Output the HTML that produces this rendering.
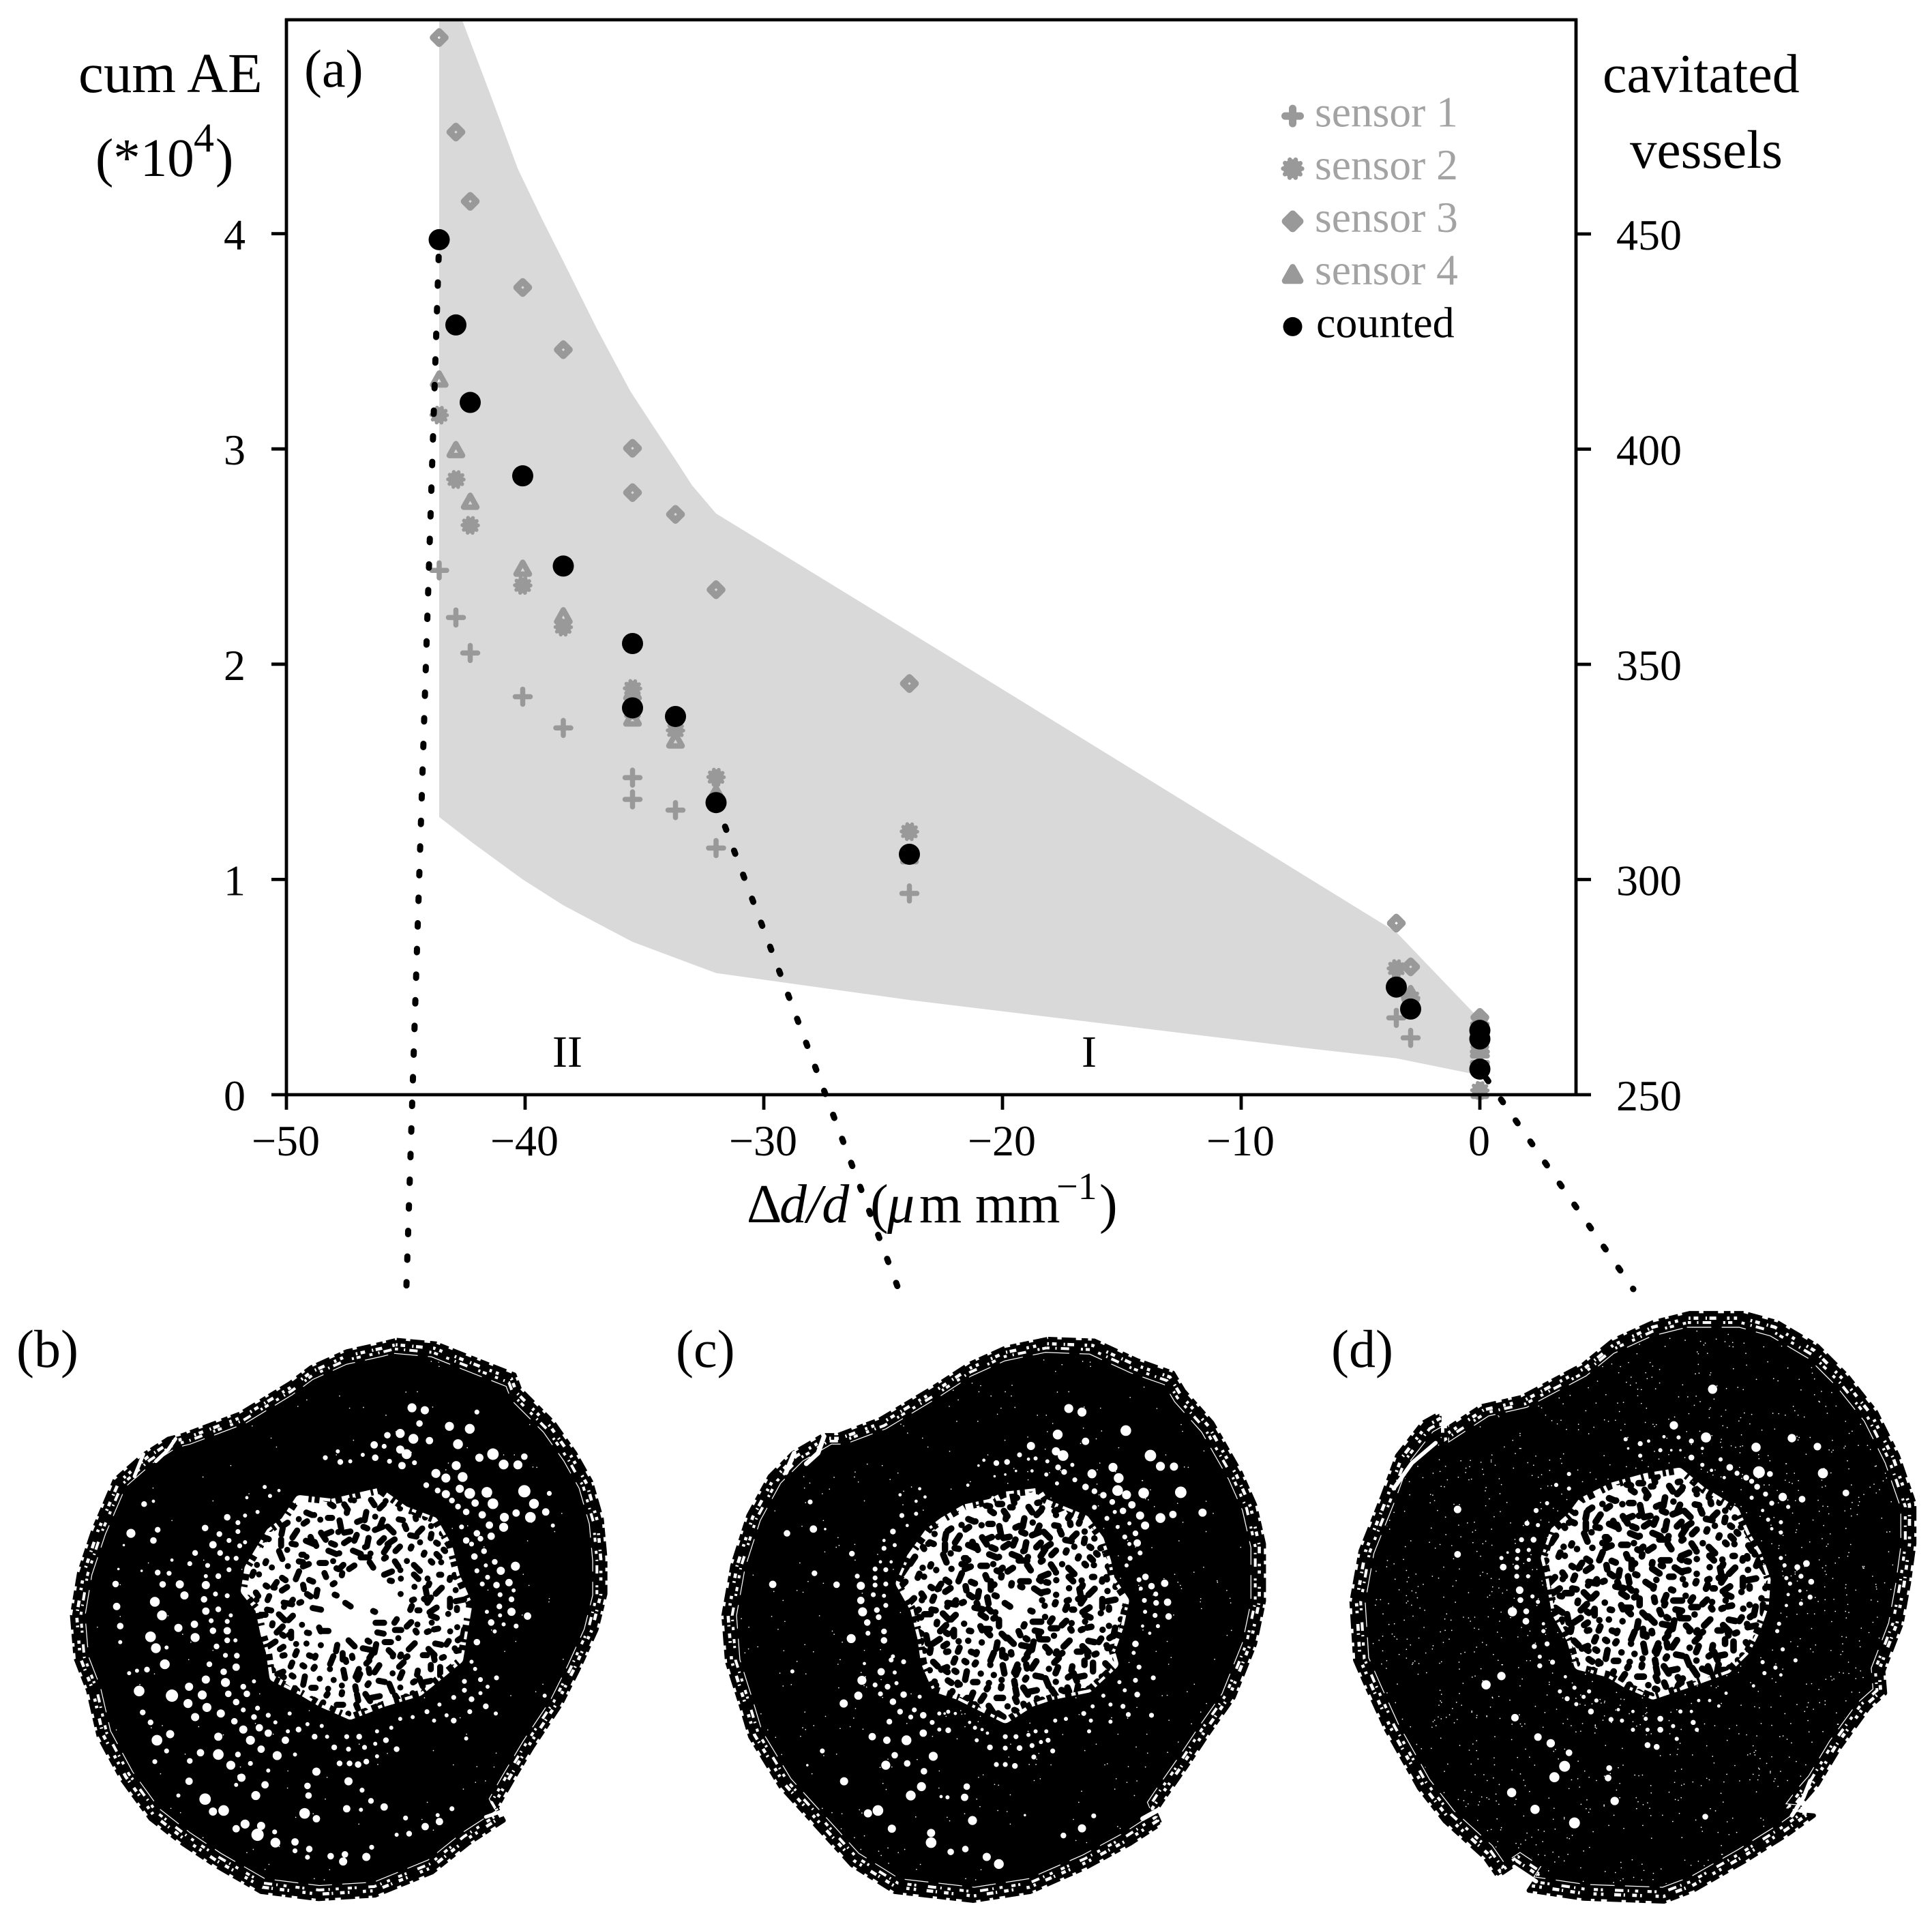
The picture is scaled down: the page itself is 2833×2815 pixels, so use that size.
<!DOCTYPE html>
<html lang="en">
<head>
<meta charset="utf-8">
<title>Cumulative AE and cavitated vessels versus diameter change</title>
<style>
html,body{margin:0;padding:0;background:#fff;}
svg{display:block;}
text{font-family:"Liberation Serif","DejaVu Serif",serif;fill:#000;}
</style>
</head>
<body>
<svg id="figure" xmlns="http://www.w3.org/2000/svg" width="2833" height="2815" viewBox="0 0 2833 2815">
  <rect x="0" y="0" width="2833" height="2815" fill="#fff"/>
  <defs>
    <clipPath id="plot-clip"><rect x="420" y="29" width="1891" height="1576"/></clipPath>
  </defs>
  <g id="chart"></g>

  <text x="115" y="135" font-size="83">cum AE</text>
  <text x="140" y="258" font-size="79">(*10<tspan x="284" y="222" font-size="60">4</tspan><tspan x="316" y="258" font-size="79">)</tspan></text>
  <text x="2350" y="135" font-size="80">cavitated</text>
  <text x="2390" y="246" font-size="79">vessels</text>
  <text x="446" y="127" font-size="78">(a)</text>
  <text x="810" y="1564" font-size="66">II</text>
  <text x="1586" y="1564" font-size="66">I</text>
  <text y="1792" font-size="80"><tspan x="1095">Δ</tspan><tspan x="1143" font-style="italic">d/d</tspan><tspan x="1276">(</tspan><tspan x="1301" font-style="italic">μ</tspan><tspan x="1348">m</tspan><tspan x="1430">mm</tspan><tspan x="1549" y="1758" font-size="56">−1</tspan><tspan x="1612" y="1792">)</tspan></text>
  <text x="24" y="2004" font-size="78">(b)</text>
  <text x="991" y="2004" font-size="78">(c)</text>
  <text x="1952" y="2004" font-size="78">(d)</text>
  <g id="micrographs"></g>
</svg>

<script>
// ---------- chart data ----------
const strainValues  = [-43.6,-42.9,-42.3,-40.1,-38.4,-35.5,-35.5,-33.7,-32.0,-23.9,-3.5,-2.9,0,0,0];
const sensor1Values = [2.436,2.217,2.052,1.849,1.704,1.473,1.372,1.322,1.146,0.935,0.357,0.264,0.20,0.18,0.15];
const sensor2Values = [3.157,2.858,2.645,2.366,2.172,1.887,1.78,1.692,1.475,1.222,0.586,0.45,0.33,0.27,0.02];
const sensor3Values = [4.911,4.472,4.15,3.75,3.461,3.003,2.797,2.696,2.346,1.91,0.797,0.594,0.359,0.30,0.20];
const sensor4Values = [3.325,2.997,2.757,2.446,2.225,1.87,1.75,1.648,1.40,1.11,0.53,0.47,0.30,0.25,0.02];
const countedValues = [3.972,3.576,3.216,2.875,2.456,2.096,1.797,1.757,1.357,1.117,0.5,0.398,0.299,0.259,0.119];

const bandUpperStrain = [-43.6,-42.63,-41.4,-40.3,-39.3,-38.3,-37,-35.6,-34.6,-33.7,-33,-32.0,-22,-3.5,0];
const bandUpperAE     = [5.6,4.99,4.63,4.30,4.07,3.85,3.56,3.27,3.10,2.95,2.83,2.70,2.02,0.755,0.35];
const bandLowerStrain = [-43.6,-42.2,-40.1,-38.4,-35.5,-32.0,-23.9,-7.7,-3.5,0];
const bandLowerAE     = [1.29,1.17,1.0,0.88,0.71,0.565,0.44,0.222,0.169,0.09];

const xTickValues = [-50,-40,-30,-20,-10,0];
const yTickValues = [0,1,2,3,4];
const rightTickValues = [250,300,350,400,450];
const legendLabels = ['sensor 1','sensor 2','sensor 3','sensor 4','counted'];

// ---------- axis functions ----------
function xScale(v){ return 2170 + 35 * v; }
function yScale(v){ return 1605 - 315.6 * v; }
function rightScale(v){ return 1605 - 6.31 * (v - 250); }

const SVGNS = 'http://www.w3.org/2000/svg';
const chart = document.getElementById('chart');
function make(parent, tag, attrs, txt){
  const el = document.createElementNS(SVGNS, tag);
  for (const k in attrs) el.setAttribute(k, attrs[k]);
  if (txt !== undefined) el.textContent = txt;
  parent.appendChild(el);
  return el;
}
const GREY = '#999999';

// ---------- confidence band ----------
(function(){
  const pts = [];
  bandUpperStrain.forEach(function(x,i){ pts.push(xScale(x)+','+yScale(bandUpperAE[i])); });
  for (let i = bandLowerStrain.length - 1; i >= 0; i--) pts.push(xScale(bandLowerStrain[i])+','+yScale(bandLowerAE[i]));
  const band = make(chart,'polygon',{points:pts.join(' '),fill:'#d9d9d9','clip-path':'url(#plot-clip)'});
  
  
})();

// ---------- marker painters ----------
function plusMark(parent,x,y,k){
  const h = 11*k;
  return make(parent,'path',{d:'M'+(x-h)+' '+y+'H'+(x+h)+'M'+x+' '+(y-h)+'V'+(y+h),fill:'none',stroke:GREY,'stroke-width':7.5*k,'stroke-linecap':'round'});
}
function flowerMark(parent,x,y,k){
  const r = 11.5*k;
  return make(parent,'circle',{cx:x,cy:y,r:r,fill:GREY,stroke:GREY,'stroke-width':5.5*k,'stroke-linecap':'round','stroke-dasharray':'0.1 '+(2*Math.PI*r/10-0.1)});
}
function diamondMark(parent,x,y,k,solid){
  const h = 9*k;
  return make(parent,'polygon',{points:x+','+(y-h)+' '+(x+h)+','+y+' '+x+','+(y+h)+' '+(x-h)+','+y,fill:solid?GREY:'none',stroke:GREY,'stroke-width':9.6*k,'stroke-linejoin':'round'});
}
function triangleMark(parent,x,y,k,solid){
  return make(parent,'polygon',{points:x+','+(y-8.7*k)+' '+(x+9.75*k)+','+(y+8.7*k)+' '+(x-9.75*k)+','+(y+8.7*k),fill:solid?GREY:'none',stroke:GREY,'stroke-width':8*k,'stroke-linejoin':'round'});
}

// ---------- series ----------
const s1Group = make(chart,'g',{});


sensor1Values.forEach(function(v,i){
  const m = plusMark(s1Group,xScale(strainValues[i]),yScale(v),1);
  
  
});
const s4Group = make(chart,'g',{});


sensor4Values.forEach(function(v,i){
  const m = triangleMark(s4Group,xScale(strainValues[i]),yScale(v),1,false);
  
  
});
const s2Group = make(chart,'g',{});


sensor2Values.forEach(function(v,i){
  const m = flowerMark(s2Group,xScale(strainValues[i]),yScale(v),1);
  
  
});
const s3Group = make(chart,'g',{});


sensor3Values.forEach(function(v,i){
  const m = diamondMark(s3Group,xScale(strainValues[i]),yScale(v),1,false);
  
  
});

// ---------- dotted leader lines ----------
function leader(idx, ex, ey, offset){
  const l = make(chart,'line',{x1:xScale(strainValues[idx]),y1:yScale(countedValues[idx]),x2:ex,y2:ey,stroke:'#000','stroke-width':9,'stroke-linecap':'round','stroke-dasharray':'5 32.6','stroke-dashoffset':offset});
  return l;
}
const leaderB = leader(0,596,1885,12.6);


const leaderC = leader(8,1316,1886,0);


const leaderD = leader(14,2395,1890,21);



const countedGroup = make(chart,'g',{});


countedValues.forEach(function(v,i){
  const m = make(countedGroup,'circle',{cx:xScale(strainValues[i]),cy:yScale(v),r:15.5,fill:'#000'});
  
  
});

// ---------- axes ----------
function axisLine(x1,y1,x2,y2){
  return make(chart,'line',{x1:x1,y1:y1,x2:x2,y2:y2,stroke:'#000','stroke-width':4.8});
}
const leftAxis = axisLine(420,27,420,1607);


const rightAxis = axisLine(2311,27,2311,1607);


const topAxis = axisLine(418,29,2313,29);


const bottomAxis = axisLine(420,1605,2311,1605);



xTickValues.forEach(function(v){
  const t = axisLine(xScale(v),1605,xScale(v),1627);
  
  
  const lab = make(chart,'text',{x:xScale(v)-1,y:1694,'font-size':64,'text-anchor':'middle'},v<0?'\u2212'+(-v):String(v));
  
  
});
yTickValues.forEach(function(v){
  const t = axisLine(398,yScale(v),420,yScale(v));
  
  
  const lab = make(chart,'text',{x:360,y:yScale(v)+23,'font-size':64,'text-anchor':'end'},String(v));
  
  
});
rightTickValues.forEach(function(v){
  const t = axisLine(2311,rightScale(v),2333,rightScale(v));
  
  
  const lab = make(chart,'text',{x:2370,y:rightScale(v)+23,'font-size':64},String(v));
  
  
});

// ---------- legend ----------
const legendGroup = make(chart,'g',{});


legendLabels.forEach(function(label,i){
  const base = 185.6 + i * 77.2;
  const cy = base - 15.5, cx = 1895.5;
  const entry = make(legendGroup,'g',{});
  
  
  let mark;
  if (i === 0) mark = make(entry,'path',{d:'M'+(cx-11)+' '+cy+'H'+(cx+11)+'M'+cx+' '+(cy-11)+'V'+(cy+11),stroke:GREY,'stroke-width':11,'stroke-linecap':'round',fill:'none'});
  if (i === 1) mark = flowerMark(entry,cx,cy,1.2);
  if (i === 2) mark = diamondMark(entry,cx,cy,1.15,true);
  if (i === 3) mark = triangleMark(entry,cx,cy,1.15,true);
  if (i === 4) mark = make(entry,'circle',{cx:cx,cy:cy,r:14,fill:'#000'});
  
  
  const txt = make(entry,'text',{x:i===4?1930:1928,y:base,'font-size':i===4?64:63.5},label);
  txt.style.fill = i === 4 ? '#000' : '#a3a3a3';
  
  
});

// ---------- stem cross-section micrographs (illustrative raster-like drawings, not chart data) ----------
const micro = document.getElementById('micrographs');
function hash(i){
  let h = Math.imul(i + 11, 2654435761) >>> 0;
  h ^= h >>> 13;
  h = Math.imul(h, 1274126177) >>> 0;
  return (h ^ (h >>> 16)) >>> 0;
}
function drawSection(cfg){
  const g = make(micro,'g',{transform:'translate('+cfg.ox+' '+cfg.oy+') scale('+cfg.k+')'});
  
  

  const cpi = make(g,'clipPath',{id:cfg.id+'-inner'});
  const scaleAbout = function(s){ return 'translate('+cfg.cx+' '+cfg.cy+') scale('+s+') translate('+(-cfg.cx)+' '+(-cfg.cy)+')'; };
  make(cpi,'polygon',{points:cfg.outline,transform:scaleAbout(0.945)});

  const body = make(g,'polygon',{points:cfg.outline,fill:'#000',stroke:'#000','stroke-width':12,'stroke-dasharray':'26 12 40 16 18 10','stroke-linejoin':'round'});
  
  

  const bark = make(g,'polygon',{points:cfg.outline,fill:'none',stroke:'#fff','stroke-width':9,'stroke-dasharray':'5 9 13 20 4 7 19 30 7 12 9 38','transform':scaleAbout(0.983)});
  
  
  const bark2 = make(g,'polygon',{points:cfg.outline,fill:'none',stroke:'#fff','stroke-width':8,'stroke-dasharray':'9 17 4 12 24 34 6 8 12 26','transform':scaleAbout(0.968)});
  
  
  const inner = make(g,'polygon',{points:cfg.outline,fill:'none',stroke:'#fff','stroke-width':2.5,'stroke-dasharray':'70 30','transform':scaleAbout(0.952)});
  
  

  let d = '';
  cfg.slits.forEach(function(s){ d += 'M' + s; });
  const slits = make(g,'path',{d:d,fill:'none',stroke:'#fff','stroke-width':cfg.slitW,'stroke-linecap':'round','stroke-linejoin':'round'});
  
  

  // fine grain across the wood, deterministic hashed placement
  let grain = '';
  for (let i = 0; i < cfg.grain; i++){
    const x = cfg.cx - 800 + hash(i * 2) % 1600, y = cfg.cy - 820 + hash(i * 2 + 1) % 1640;
    grain += 'M' + x + ' ' + y + 'h.1';
  }
  const grainEl = make(g,'path',{d:grain,stroke:'#fff','stroke-width':3.2,'stroke-linecap':'round',fill:'none','clip-path':'url(#'+cfg.id+'-inner)'});
  
  

  // pith
  const pith = make(g,'polygon',{points:cfg.pith,fill:'#fff',stroke:'#fff','stroke-width':34,'stroke-dasharray':'22 9 8 14 30 7 12 18','stroke-linejoin':'round'});
  
  
  const cp = make(g,'clipPath',{id:cfg.id+'-pith'});
  make(cp,'polygon',{points:cfg.pith,transform:'translate('+cfg.pcx+' '+cfg.pcy+') scale(1.03) translate('+(-cfg.pcx)+' '+(-cfg.pcy)+')'});
  let holes = '';
  const n = cfg.holes, R = 350;
  for (let i = 1; i < n; i++){
    const a = i * 2.39996, r = R * Math.sqrt(i / n);
    if (r < cfg.clear && i % 4) continue;
    const h = hash(i);
    const x = cfg.pcx + r * Math.cos(a) + (h % 25) - 12, y = cfg.pcy + 0.9 * r * Math.sin(a) + ((h >>> 8) % 25) - 12;
    const len = ((h >>> 4) % 5) * 6, ang = ((h >>> 12) % 16) * Math.PI / 16;
    holes += 'M' + x.toFixed(1) + ' ' + y.toFixed(1) + 'l' + (len * Math.cos(ang)).toFixed(1) + ' ' + (len * Math.sin(ang)).toFixed(1);
  }
  const holeEl = make(g,'path',{d:holes,fill:'none',stroke:'#000','stroke-width':cfg.holeW,'stroke-linecap':'round','clip-path':'url(#'+cfg.id+'-pith)'});
  
  

  // open vessels
  let v = '';
  cfg.vessels.trim().split(/\s+/).forEach(function(t){
    const p = t.split(',').map(Number);
    const r = p[2] * 1.15;
    v += 'M' + (p[0]-r) + ' ' + p[1] + 'a' + r + ' ' + r + ' 0 1 0 ' + (2*r) + ' 0a' + r + ' ' + r + ' 0 1 0 ' + (-2*r) + ' 0Z';
  });
  const vesselEl = make(g,'path',{d:v,fill:'#fff'});
  
  
}

drawSection({
  id:'sec-b', name:'micrograph-b', ox:90, oy:1950, k:0.523, cx:790, cy:810, pcx:830, pcy:770, holes:330, clear:120, holeW:17, grain:260, slitW:10,
  outline:'940,28 1050,38 1130,70 1270,125 1285,165 1380,260 1440,345 1485,425 1515,530 1525,640 1525,740 1500,840 1450,950 1400,1050 1320,1170 1260,1270 1220,1340 1240,1375 1140,1440 1040,1520 880,1585 720,1595 560,1575 430,1500 340,1440 250,1370 170,1260 105,1140 75,1010 40,920 30,800 50,680 90,560 150,420 230,350 300,305 340,295 500,235 640,150 700,105 800,60 900,38',
  pith:'670,480 760,490 890,460 960,510 1040,540 1080,610 1100,690 1135,770 1125,830 1110,920 1050,970 1000,1010 900,1040 810,1075 730,1040 680,1010 600,970 590,900 575,850 560,780 520,730 530,670 560,620 590,570 630,540',
  slits:['320 305L300 335L265 368','230 348L205 410','1190 1365L1232 1350'],
  vessels:'983,218,11 1019,225,10 1165,230,6 1145,277,12 1088,270,11 1004,262,8 950,290,11 914,295,8 987,305,12 1032,310,9 1112,320,12 877,322,9 905,326,6 950,335,10 968,348,12 1210,348,14 1172,358,10 1298,355,8 1240,377,12 1280,378,11 1107,380,11 990,372,6 955,380,9 920,368,6 880,358,8 845,350,5 775,340,5 740,358,6 782,370,7 810,368,5 1050,402,11 1078,415,11 1125,412,12 1023,435,7 1055,450,7 1078,460,10 1117,445,10 1145,458,13 1193,455,13 1298,452,15 1368,458,6 1095,478,7 1160,485,9 1210,487,13 1112,495,7 1135,510,8 1325,487,12 1358,510,9 1275,513,9 1242,525,11 1180,518,9 1315,525,13 1378,548,5 1200,547,9 1240,553,11 1122,552,6 1165,570,8 1205,578,9 1175,585,7 1135,590,8 1150,600,6 1185,620,7 1215,650,7 1273,662,11 1158,635,8 1190,660,5 1232,675,10 1195,693,6 1165,675,6 1255,708,9 1220,715,8 1180,712,6 1230,742,6 1268,730,5 1262,755,7 1228,775,7 1262,790,10 1193,790,5 1307,802,9 1230,800,5 1205,820,8 1240,825,5 1275,830,6 1215,845,5 1165,875,8 1150,930,5 1160,950,5 1130,985,6 1175,980,6 1220,975,6 1195,1000,5 1130,1010,6 1150,1035,7 1100,1030,6 1190,1055,7 1175,1018,5 1355,1025,5 1218,1075,5 1145,1070,6 1135,1145,5 1060,1050,5 1080,1080,5 1100,1095,7 1045,1095,5 1025,1070,6 985,1085,5 950,1090,5 925,1115,5 885,1125,5 835,1140,7 800,1140,6 940,1175,7 910,1150,7 880,1160,5 850,1170,6 805,1175,6 765,1170,7 885,1195,5 855,1210,7 832,1218,8 808,1215,7 780,1215,7 715,1238,10 805,1265,10 690,1278,8 843,1290,6 868,1320,7 693,1305,8 800,1342,9 905,1337,9 840,1345,5 682,1355,13 715,1370,9 965,1368,6 1095,1342,6 1055,1360,5 1060,1378,9 1020,1392,9 975,1412,7 940,1415,5 870,1450,6 855,1477,10 795,1470,8 755,1475,8 790,1490,10 695,1455,8 690,1478,6 655,1435,9 655,1460,6 600,1437,12 598,1407,6 560,1390,10 550,1415,15 515,1385,11 490,1398,9 455,1347,13 425,1350,10 403,1315,14 545,1305,11 571,1275,9 505,1255,10 490,1275,5 358,1265,9 328,1305,5 262,1210,6 268,1150,13 305,1133,10 250,1100,7 295,1180,6 228,1072,7 218,1012,13 212,955,5 190,962,5 240,952,7 290,937,12 265,892,12 295,890,5 250,860,13 165,830,8 165,875,5 155,775,9 152,712,8 262,762,12 282,800,12 328,835,10 375,862,11 373,825,9 345,744,10 332,713,10 284,713,8 405,715,10 405,690,5 440,690,7 470,672,6 410,660,6 360,655,6 302,682,6 270,680,7 225,675,3 400,755,8 432,740,6 465,745,6 405,788,9 440,783,7 475,800,5 420,815,6 465,817,6 425,843,8 465,843,9 435,887,7 465,870,7 488,870,5 492,913,7 460,912,6 490,945,9 415,937,7 455,958,8 405,980,10 460,988,11 510,1000,7 540,985,5 358,1000,10 310,1025,15 395,1023,11 355,1047,11 468,1020,8 520,1020,8 408,1058,11 447,1075,10 490,1043,8 375,1085,10 510,1065,6 550,1060,6 485,1097,8 540,1085,7 580,1080,6 510,1120,10 555,1115,9 440,1140,10 530,1150,11 580,1130,9 600,1100,5 635,1125,5 628,1150,9 560,1175,9 495,1190,7 390,1185,9 360,1208,7 440,1190,13 605,1193,11 655,1190,5 475,1220,11 530,1215,6 500,1252,6 580,1235,5 640,1075,5 665,1120,7 690,1105,5 710,1140,7 745,1140,5 730,1110,5 232,488,7 258,480,4 195,570,11 270,560,7 258,590,8 175,603,3 160,670,3 403,555,8 443,572,7 465,525,8 495,540,6 495,565,6 515,520,5 550,510,5 585,465,5 570,440,5 610,450,4 520,470,4 470,590,6 425,602,9 500,605,6 515,595,5 375,625,7 445,625,7 465,640,6 490,640,6 310,645,4'
});

drawSection({
  id:'sec-c', name:'micrograph-c', ox:1040, oy:1950, k:0.523, cx:800, cy:810, pcx:860, pcy:770, holes:380, clear:50, holeW:18, grain:700, slitW:13,
  outline:'950,25 1080,30 1200,85 1300,120 1330,170 1410,260 1490,400 1530,490 1555,600 1555,760 1530,880 1470,1030 1400,1130 1340,1220 1270,1320 1250,1350 1265,1385 1180,1440 1060,1505 900,1575 740,1600 520,1575 400,1500 300,1390 200,1280 115,1140 85,1040 50,930 40,800 65,660 110,520 170,410 235,345 320,295 360,295 480,250 630,160 730,95 830,50',
  pith:'720,505 790,490 830,470 920,460 940,490 1050,535 1090,590 1110,650 1120,700 1160,760 1145,830 1120,900 1130,935 1060,1000 960,1020 900,1040 830,1085 760,1050 700,1020 640,1000 610,930 600,860 580,780 540,710 570,640 620,570 660,540',
  slits:['322 298L305 345L272 375','238 345L215 400','1215 1370L1260 1345'],
  vessels:'1008,220,11 1045,230,11 1168,282,13 977,293,12 1055,312,9 902,325,10 870,350,6 972,340,10 992,352,13 1237,352,14 1265,382,11 1303,383,10 1132,385,11 915,360,5 895,362,4 948,368,5 978,385,7 1018,378,5 835,370,7 805,373,7 770,365,4 755,380,3 995,398,7 1073,403,11 1025,420,6 1148,415,12 945,405,5 975,430,5 1055,440,8 1145,450,13 1218,457,13 1322,455,14 1080,452,7 1105,463,8 1170,462,11 1130,482,7 1185,490,9 1080,497,6 1160,507,8 1137,510,5 1383,512,10 1300,517,9 1265,527,12 1208,520,10 1115,528,6 1222,548,10 1178,542,5 1145,552,5 1195,570,7 1165,580,6 1200,597,9 1178,600,5 1208,625,6 1180,640,6 1170,660,5 1223,692,8 1205,700,6 1277,710,9 1240,718,8 1210,725,5 1252,740,6 1220,758,6 1285,763,9 1253,765,7 1222,790,5 1288,803,8 1250,800,6 1258,830,5 1215,830,4 1235,850,4 1195,880,8 1190,905,5 1205,945,6 1245,975,6 1195,982,6 1150,987,5 1165,1010,5 1200,1022,7 1105,1025,5 1125,1050,5 1160,1055,6 1175,1078,6 1240,1080,6 1075,1055,5 1050,1075,6 1070,1095,5 1125,1098,5 1000,1090,5 970,1095,5 1065,1125,5 945,1125,5 915,1125,5 895,1135,5 860,1140,6 830,1140,6 780,1130,4 950,1150,6 930,1155,5 905,1165,6 870,1172,7 830,1172,6 787,1170,7 750,1150,5 963,1180,6 910,1197,6 857,1222,7 830,1218,6 805,1218,6 722,1280,8 716,1310,9 738,1375,11 668,1310,5 650,1308,4 622,1410,10 622,1437,13 677,1463,8 718,1455,8 778,1477,10 812,1497,12 993,1417,7 1045,1397,10 1078,1362,6 885,1360,3 512,1398,10 473,1347,13 445,1355,10 565,1305,12 595,1280,11 378,1265,10 602,1237,8 555,1215,8 628,1195,11 520,1192,8 495,1220,11 317,1180,6 275,1220,3 457,1140,9 498,1150,9 553,1150,12 600,1130,9 505,1098,7 565,1085,6 535,1070,7 625,1100,6 670,1122,7 645,1120,5 600,1080,8 645,1075,5 670,1070,5 690,1075,4 575,1065,6 515,1042,8 545,1022,8 590,1028,5 377,1047,10 418,1025,10 480,1020,6 465,995,6 500,1000,7 525,990,5 428,982,11 482,958,9 520,960,5 510,925,6 435,935,4 545,930,6 515,915,5 233,957,5 398,865,11 445,850,6 490,845,7 490,870,8 443,820,8 475,805,7 430,790,11 470,785,7 495,772,6 425,758,9 460,742,6 490,745,5 425,717,10 465,715,6 495,712,6 357,714,8 415,690,6 465,695,6 495,672,6 465,670,6 480,650,4 510,650,4 400,627,7 295,682,7 178,713,9 292,558,9 218,570,8 283,482,6 325,558,3 490,612,6 520,603,5 490,590,4 515,565,7 555,548,4 540,520,6 580,515,5 535,462,4 590,445,4 605,468,4 580,480,4 725,435,4 795,470,4 800,410,3 830,405,3 860,395,3 905,395,4 730,1100,4 745,1115,5 765,1120,4 660,1075,3'
});

drawSection({
  id:'sec-d', name:'micrograph-d', ox:1990, oy:1920, k:0.5357, cx:760, cy:810, pcx:820, pcy:750, holes:400, clear:0, holeW:18, grain:2000, slitW:11,
  outline:'910,10 1060,10 1150,35 1260,100 1340,180 1420,280 1480,400 1525,530 1525,640 1510,750 1490,860 1440,990 1445,1050 1400,1090 1320,1200 1260,1300 1225,1340 1195,1380 1250,1385 1180,1435 1060,1510 920,1590 840,1620 620,1612 470,1590 490,1560 430,1520 385,1550 350,1500 240,1400 170,1310 80,1150 30,1040 -5,960 -15,800 10,660 70,510 110,400 180,310 225,285 225,340 340,265 450,240 620,150 700,85 810,35',
  pith:'700,490 790,465 880,450 940,500 1030,555 1060,620 1090,670 1115,740 1110,810 1085,880 1060,930 1010,980 900,1020 810,1050 740,1020 690,990 610,970 590,900 550,830 530,720 520,680 545,610 590,570 620,530',
  slits:['215 365L150 420L100 490','1240 1290L1222 1335L1190 1385','430 1525L490 1565'],
  vessels:'973,218,11 867,317,10 955,350,12 1190,352,10 1260,375,9 1092,377,11 1275,448,12 1338,502,8 1100,445,14 1130,450,7 1165,513,10 1218,519,8 1020,432,8 1040,448,6 1065,460,7 1080,470,6 1095,485,7 1118,505,6 1080,515,5 1135,530,6 1180,540,5 1110,550,4 1125,575,5 1160,582,5 1135,600,4 1160,610,5 1160,680,5 1230,695,8 1205,705,7 1170,700,5 1175,735,5 1215,730,6 1243,745,7 1185,750,5 1212,770,4 1240,787,6 1180,780,4 1215,805,5 1175,810,4 1155,860,5 1150,880,5 1165,930,5 1200,960,5 1110,965,5 1145,980,5 1115,995,5 1160,1000,4 1085,1030,4 1010,1050,4 990,1085,4 965,1070,4 935,1070,4 915,1100,4 885,1100,5 830,1120,7 790,1120,5 920,1130,6 865,1140,5 830,1150,7 795,1150,5 930,1150,5 755,1150,5 725,1125,5 695,1122,6 715,1095,4 755,1100,4 875,1175,5 795,1192,7 820,1197,7 640,1100,7 600,1080,5 655,1070,5 620,1060,5 635,1045,5 575,1065,6 555,1045,5 595,1035,5 570,1005,4 535,965,6 500,975,6 500,950,5 485,922,6 520,915,6 510,880,5 510,860,4 395,1003,10 353,1027,11 432,1117,9 495,1170,9 530,1187,10 580,1213,8 568,1250,13 540,1280,12 690,1255,7 687,1282,8 705,1345,10 423,1322,11 487,1368,11 595,1405,13 953,1388,7 425,827,11 463,826,7 462,853,8 445,768,9 447,795,7 480,785,5 495,800,5 437,730,6 468,730,5 400,705,8 437,705,6 395,680,5 438,682,5 470,685,5 412,665,3 440,660,6 470,658,5 450,630,6 483,630,7 465,585,6 495,590,5 490,550,6 520,530,5 545,480,5 580,490,5 580,450,5 275,547,9 275,670,8 735,355,5 742,380,3 775,367,6 798,360,4 840,348,4 880,350,5 915,360,6 945,380,4 830,385,5 860,385,3 885,385,3 775,400,5 915,405,7 945,425,5 995,410,5 970,440,4 1005,460,4'
});
</script>
</body>
</html>
